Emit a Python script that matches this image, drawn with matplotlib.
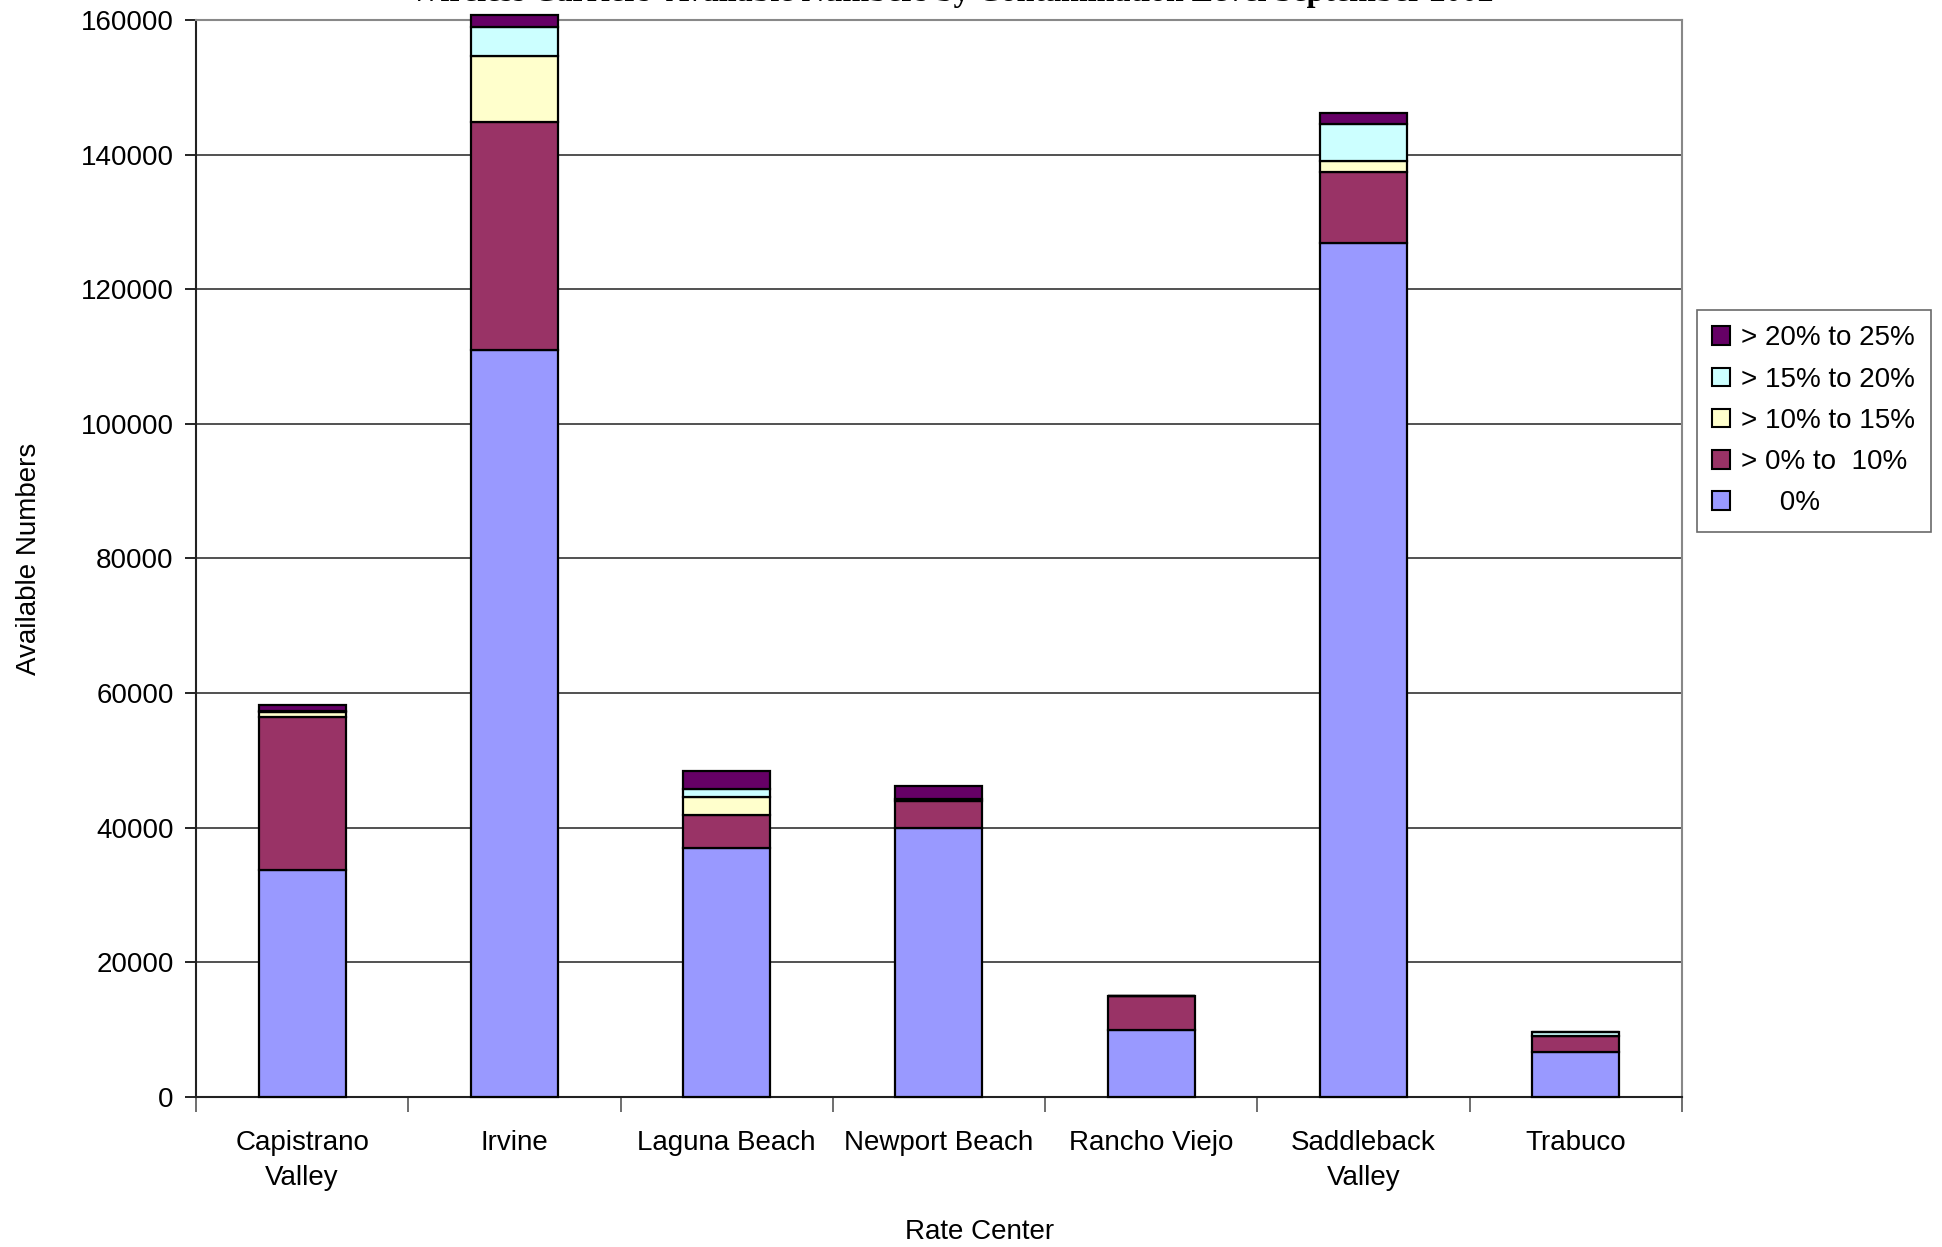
import numpy as np
import matplotlib.pyplot as plt
import matplotlib.patches as mpatches

rate_centers = ["Capistrano\nValley", "Irvine", "Laguna Beach", "Newport Beach",
                "Rancho Viejo", "Saddleback\nValley", "Trabuco"]

# available numbers per contamination level
level_0 = [33700, 110900, 37000, 40000, 10000, 126900, 6700]
level_0_10 = [22800, 34000, 4900, 3900, 5000, 10500, 2300]
level_10_15 = [700, 9800, 2600, 400, 0, 1600, 0]
level_15_20 = [100, 4200, 1300, 0, 0, 5600, 600]
level_20_25 = [900, 1800, 2700, 1900, 0, 1600, 0]

series = [level_0, level_0_10, level_10_15, level_15_20, level_20_25]
labels = ["     0%", "> 0% to  10%", "> 10% to 15%", "> 15% to 20%", "> 20% to 25%"]
colors = ["#9999FF", "#993366", "#FFFFCC", "#CCFFFF", "#660066"]

plt.rcParams['font.family'] = ['Liberation Sans', 'DejaVu Sans']

fig = plt.figure(figsize=(19.42, 12.47), dpi=100)
ax = fig.add_axes([0.1009, 0.1203, 0.7652, 0.8637])

x = np.arange(len(rate_centers))
bottom = np.zeros(len(rate_centers))
for values, color in zip(series, colors):
    values = np.array(values)
    ax.bar(x, values, width=0.41, bottom=bottom, color=color,
           edgecolor='black', linewidth=1.6, zorder=3, clip_on=False)
    bottom += values

ax.set_xlim(-0.5, len(rate_centers) - 0.5)
ax.set_ylim(0, 160000)
ax.set_yticks(np.arange(0, 160001, 20000))
ax.yaxis.grid(True, color='#333333', linewidth=1.2, zorder=0)

ax.set_xticks(x)
ax.set_xticklabels(rate_centers, fontsize=20, linespacing=1.45)
ax.set_xticks(np.arange(-0.5, len(rate_centers)), minor=True)
ax.tick_params(axis='x', which='major', length=0, pad=24)
ax.tick_params(axis='x', which='minor', length=11, width=1.2, color='#555555')
ax.tick_params(axis='y', labelsize=20, length=8, width=1.2, pad=8)

for side in ['top', 'right']:
    ax.spines[side].set_color('#888888')
    ax.spines[side].set_linewidth(1.5)
ax.spines['left'].set_color('#222222')
ax.spines['bottom'].set_color('#222222')
ax.spines['left'].set_linewidth(1.5)
ax.spines['bottom'].set_linewidth(1.5)

ax.set_xlabel("Rate Center", fontsize=20)
ax.xaxis.set_label_coords(0.5275, -0.113)
ax.set_ylabel("Available Numbers", fontsize=20, labelpad=28)

# title sits mostly above the top edge of the figure
fig.text(0.49, 1 - 1 / 1247, "Wireless Carriers' Available Numbers by Contamination Level September 2002",
         ha='center', va='baseline', fontsize=23, fontweight='bold', family='Liberation Serif')

handles = [mpatches.Patch(facecolor=c, edgecolor='black', linewidth=1.5, label=l)
           for c, l in zip(colors, labels)]
leg = fig.legend(handles=handles[::-1], loc='upper left', bbox_to_anchor=(0.8738, 0.7514),
                 fontsize=20, frameon=True, fancybox=False, handlelength=0.65, handleheight=0.65,
                 handletextpad=0.4, labelspacing=0.55, borderpad=0.55, borderaxespad=0)
leg.get_frame().set_edgecolor('#444444')
leg.get_frame().set_linewidth(1.2)

fig.savefig("out.png", dpi=100)
